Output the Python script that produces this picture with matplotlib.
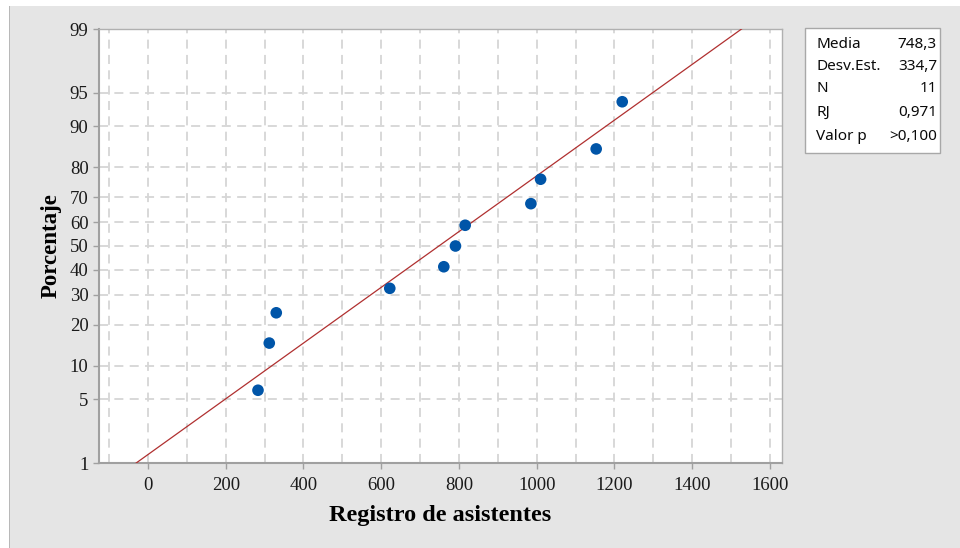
import numpy as np
import matplotlib
matplotlib.use("Agg")
import matplotlib.pyplot as plt
from matplotlib.patches import Rectangle
from statistics import NormalDist

# datos
registro = [283, 312, 330, 622, 761, 791, 816, 985, 1010, 1153, 1220]
porcentaje = [6.1, 14.9, 23.7, 32.5, 41.2, 50.0, 58.8, 67.5, 76.3, 85.1, 93.9]
media = 748.3
desv = 334.7
y_ticks = [1, 5, 10, 20, 30, 40, 50, 60, 70, 80, 90, 95, 99]
x_ticks = [0, 200, 400, 600, 800, 1000, 1200, 1400, 1600]
tabla = [("Media", "748,3"), ("Desv.Est.", "334,7"), ("N", "11"),
         ("RJ", "0,971"), ("Valor p", ">0,100")]

nd = NormalDist()
_ppf = np.vectorize(lambda p: nd.inv_cdf(min(max(p / 100.0, 1e-9), 1 - 1e-9)), otypes=[float])
_cdf = np.vectorize(lambda z: nd.cdf(z) * 100.0, otypes=[float])

fig = plt.figure(figsize=(9.6, 5.48), dpi=100)
fig.patch.set_facecolor("white")
fig.patches.append(Rectangle((9 / 960, 0), 951 / 960, 542 / 548, transform=fig.transFigure,
                             facecolor="#e5e5e5", edgecolor="none", zorder=-10))
fig.patches.append(Rectangle((9 / 960, 0), 1 / 960, 542 / 548, transform=fig.transFigure,
                             facecolor="#b8b8b8", edgecolor="none", zorder=-10))

ax = fig.add_axes([99 / 960, 85 / 548, 683 / 960, 434 / 548])
ax.set_zorder(2)
ax.set_facecolor("white")
ax.set_yscale("function", functions=(_ppf, _cdf))
ax.set_ylim(1, 99)
ax.set_xlim(-126, 1631)

# linea ajustada
z = np.linspace(nd.inv_cdf(0.01), nd.inv_cdf(0.99), 50)
ax.plot(media + desv * z, _cdf(z), color="#b03030", lw=0.9, zorder=3)
ax.scatter(registro, porcentaje, s=70, color="#0055a8", zorder=4, edgecolors="none")

ax.set_yticks(y_ticks)
ax.set_yticklabels([str(t) for t in y_ticks])
ax.set_xticks(x_ticks)
ax.set_xticks(np.arange(-100, 1601, 100), minor=True)
ax.yaxis.set_minor_locator(matplotlib.ticker.NullLocator())
ax.grid(True, which="both", axis="x", color="#d6d6d6", ls=(0, (5, 3.5)), lw=1.3)
ax.grid(True, which="major", axis="y", color="#d6d6d6", ls=(0, (5, 3.5)), lw=1.3)
ax.tick_params(which="minor", length=0)
ax.tick_params(which="major", length=4, width=1, color="#a0a0a0", direction="out")
ax.set_axisbelow(True)

for s in ax.spines.values():
    s.set_color("#b0b0b0")
    s.set_linewidth(1)
ax.spines["left"].set_color("#a0a0a0")
ax.spines["bottom"].set_color("#a0a0a0")
ax.spines["left"].set_linewidth(1.5)
ax.spines["bottom"].set_linewidth(1.5)

for lab in ax.get_xticklabels() + ax.get_yticklabels():
    lab.set_fontfamily("Liberation Serif")
    lab.set_fontsize(13.5)
    lab.set_color("#1a1a1a")
ax.tick_params(axis="x", pad=6)

ax.set_xlabel("Registro de asistentes", fontfamily="Liberation Serif", fontsize=17.5,
              fontweight="bold", labelpad=8)
ax.set_ylabel("Porcentaje", fontfamily="Liberation Serif", fontsize=16.5,
              fontweight="bold", labelpad=6)

# cuadro de estadisticos
fig.patches.append(Rectangle((805 / 960, 1 - 153 / 548), 135 / 960, 125 / 548,
                             transform=fig.transFigure, facecolor="white",
                             edgecolor="#a8a8a8", lw=1, zorder=1))
filas_y = [45, 67, 89, 112, 136]
for (k, v), yy in zip(tabla, filas_y):
    fig.text(816 / 960, 1 - yy / 548, k, fontfamily="Noto Sans", fontsize=11,
             va="center", ha="left", color="#0a0a0a")
    fig.text(937 / 960, 1 - yy / 548, v, fontfamily="Noto Sans", fontsize=11,
             va="center", ha="right", color="#0a0a0a")

fig.savefig("out.png", dpi=100)
